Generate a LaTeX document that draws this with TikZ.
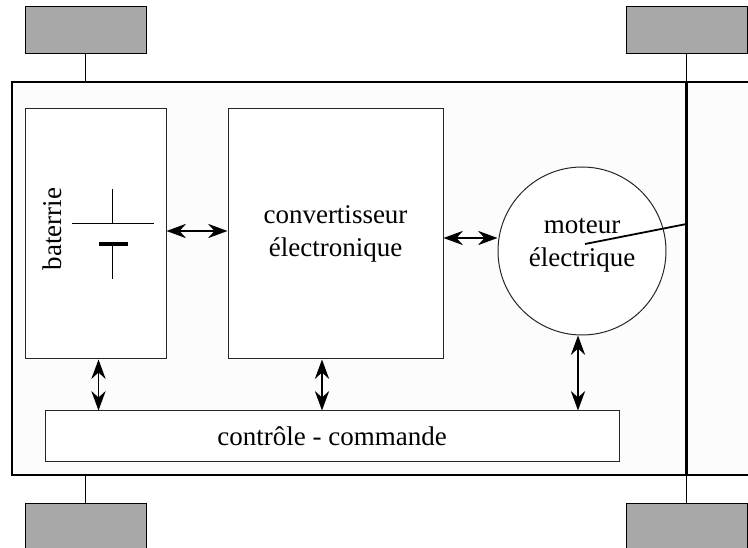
\documentclass[tikz,border=0pt]{standalone}
\usepackage{fontspec}
\setmainfont{Liberation Serif}
\usetikzlibrary{arrows.meta}

\begin{document}
\begin{tikzpicture}[x=1pt,y=-1pt,
    every node/.style={font=\fontsize{27}{33}\selectfont},
    box/.style={draw=black!85,fill=white,line width=1pt,inner sep=0pt},
    wheel/.style={draw,fill=black!34,line width=1pt,inner sep=0pt,
      minimum width=121pt,minimum height=47pt},
    link/.style={{Stealth[length=15pt,width=11pt,inset=5pt,scale=1.3]}-{Stealth[length=15pt,width=11pt,inset=5pt,scale=1.3]},line width=1.4pt}]
  \clip (0,0) rectangle (748,548);
  \useasboundingbox (0,0) rectangle (748,548);
  % chassis and wheels
  \node [draw,fill=black!1,line width=1.3pt,inner sep=0pt,
    minimum width=748pt,minimum height=393pt] (Chas) at (386,278.5) {};
  \node [wheel] (WTL) at (85.5,30.5) {};
  \node [wheel] (WTR) at (686.5,30.5) {};
  \node [wheel] (WBL) at (85.5,526.5) {};
  \node [wheel] (WBR) at (686.5,526.5) {};
  \draw [line width=1pt] (WTL) -- (WTL |- Chas.north);
  \draw [line width=1pt] (WBL) -- (WBL |- Chas.south);
  \draw [line width=1.2pt] (WTR) -- (WBR);
  \draw [line width=2.6pt] (WTR |- Chas.north) -- (WTR |- Chas.south);
  % blocks
  \node [box,minimum width=141pt,minimum height=250pt] (Bat) at (95.5,234) {};
  \node [box,minimum width=215pt,minimum height=250pt,align=center] (Conv) at (335.5,234)
    {convertisseur\\électronique};
  \node [box,circle,minimum size=168pt] (Mot) at (582,251) {};
  \node [align=center] (MotLbl) at (582,245) {moteur\\électrique};
  \node [box,minimum width=574pt,minimum height=50pt] (Ctrl) at (332,436)
    {contrôle - commande};
  \node [rotate=90,inner sep=0pt] (BatLbl) at (52,229) {baterrie};
  % battery symbol
  \draw [line width=1pt] (72,224) -- (154,224);
  \draw [line width=1pt] (112,189) -- (112,224);
  \draw [line width=4pt] (99,244) -- (128,244);
  \draw [line width=1pt] (112,244) -- (112,279);
  % motor shaft
  \draw [line width=1.8pt] (585,244) -- (WTR |- 0,224);
  % links
  \draw [link] ([yshift=3pt]Bat.east) -- ([yshift=3pt]Conv.west);
  \draw [link] ([yshift=-4pt]Conv.east) -- ([yshift=-4pt]Conv.east -| Mot.west);
  \draw [link] ([xshift=3pt]Bat.south) -- ([xshift=3pt]Bat.south |- Ctrl.north);
  \draw [link] ([xshift=-13.5pt]Conv.south) -- ([xshift=-13.5pt]Conv.south |- Ctrl.north);
  \draw [link] ([xshift=-4pt]Mot.south) -- ([xshift=-4pt]Mot.south |- Ctrl.north);
\end{tikzpicture}
\end{document}
